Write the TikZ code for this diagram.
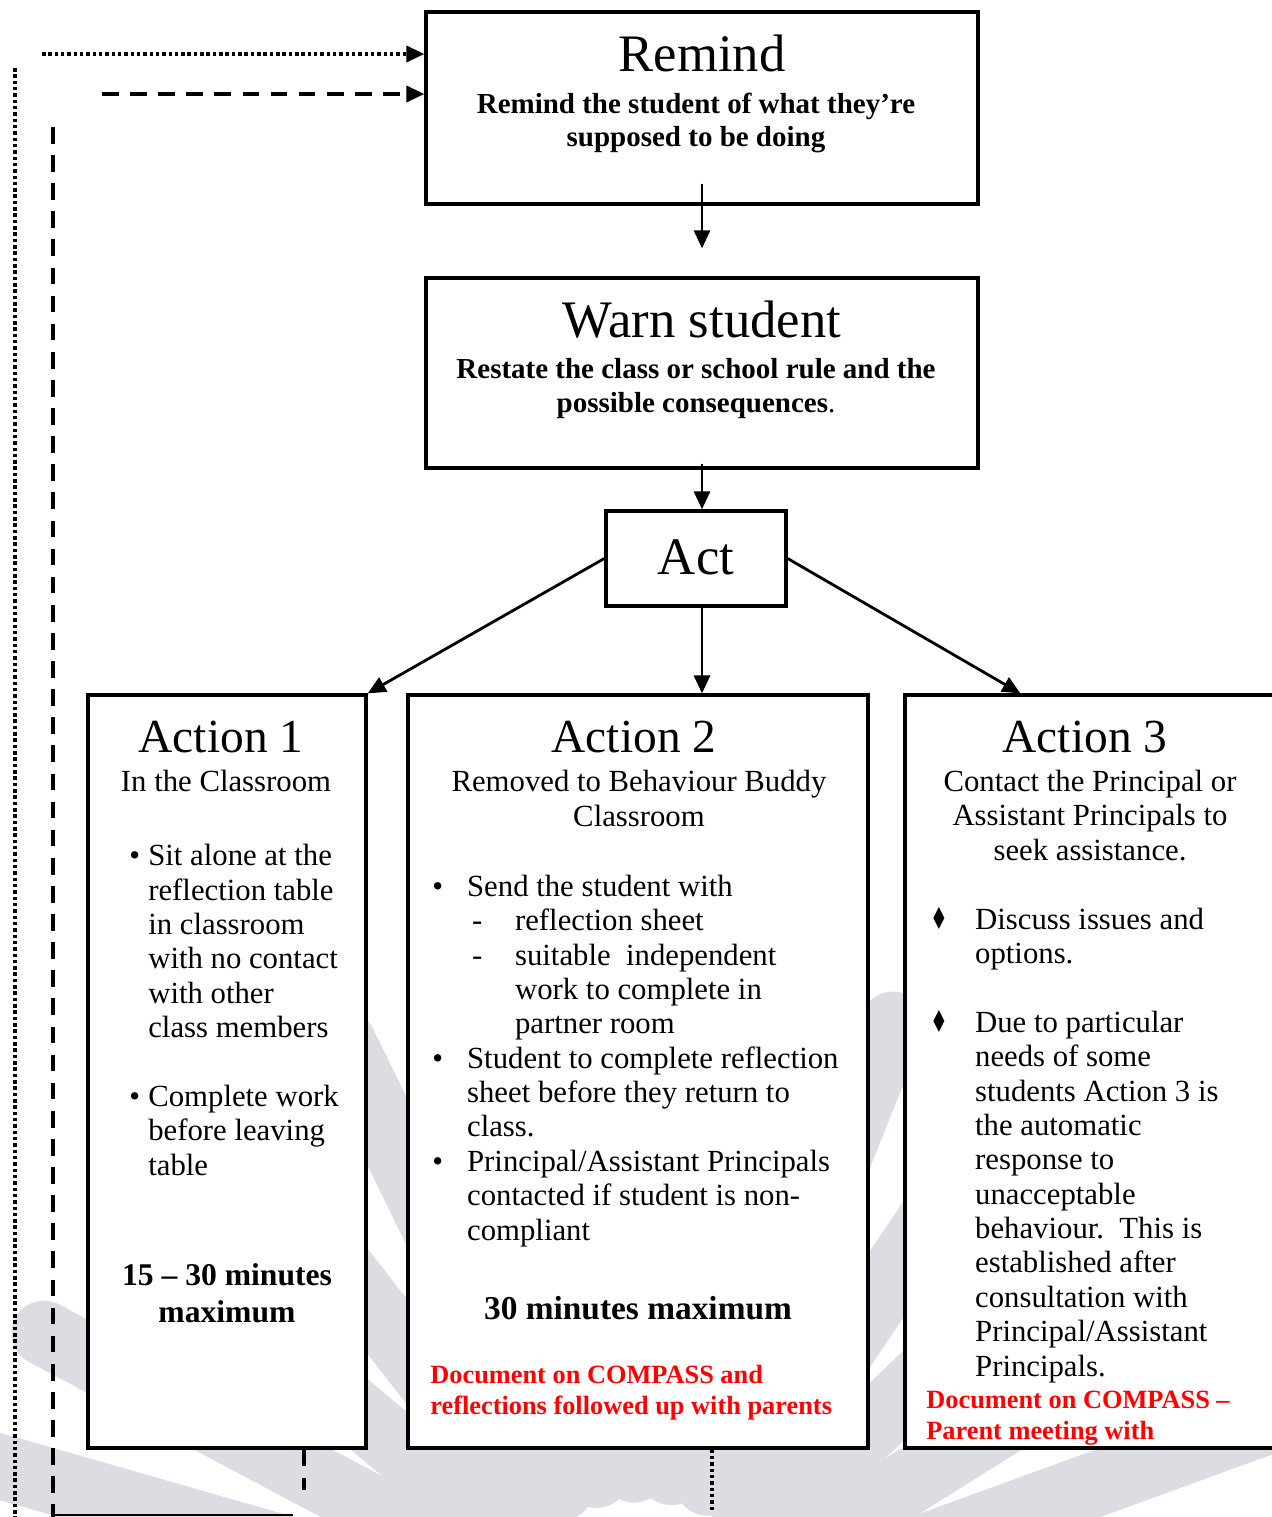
\documentclass[tikz,border=0pt]{standalone}
\usepackage{fontspec}
\setmainfont{Liberation Serif}
\newfontfamily\symfont{DejaVu Sans}
\usetikzlibrary{arrows.meta,calc}
\definecolor{wmgray}{HTML}{DCDDE3}
\definecolor{docred}{HTML}{FF0000}
\newcommand\bul[1]{\makebox[#1][l]{\textbullet}}
\newcommand\dia{\makebox[25.5pt][l]{\fontsize{15}{15}\selectfont\symfont\scalebox{0.75}[1.15]{♦}}}
\tikzset{
  % Stage boxes
  stage/.style={draw=black,line width=1.9pt,fill=white,inner sep=0pt},
  % Texts (multi-line nodes sit on the baseline of their last line)
  bigtitle/.style={inner sep=0pt,anchor=base,font=\fontsize{30}{34}\selectfont},
  subtitle/.style={inner sep=0pt,anchor=base,align=center,
                   font=\fontsize{16.5}{19.3}\selectfont\bfseries},
  acttitle/.style={inner sep=0pt,anchor=base,font=\fontsize{27}{30}\selectfont},
  actsub/.style={inner sep=0pt,anchor=base,align=center,
                 font=\fontsize{17.5}{19.56}\selectfont},
  body/.style={inner sep=0pt,anchor=base west,align=left,
               font=\fontsize{17.5}{19.56}\selectfont},
  limit/.style={inner sep=0pt,anchor=base,align=center,
                font=\fontsize{18}{21}\selectfont\bfseries},
  note/.style={inner sep=0pt,anchor=base west,align=left,text=docred,
               font=\fontsize{15}{17.3}\selectfont\bfseries},
  % Connectors
  arr/.style={-{Triangle[length=3.6mm,width=3.2mm]},line width=1.6pt},
  dotl/.style={line width=2pt,dash pattern=on 2pt off 1.6pt},
  dashl/.style={line width=2pt,dash pattern=on 9.5pt off 6.5pt},
  petal/.style={wmgray,line width=1.3cm,line cap=round}
}

\begin{document}
\begin{tikzpicture}[x=0.02cm,y=-0.02cm]
  \useasboundingbox (0,0) rectangle (1271,1517);

  % Watermark
  \coordinate (wm) at (640,1650);
  \foreach \a in {8,20,...,176}
    \draw[petal] ([shift={(-\a:180)}]wm) -- ([shift={(-\a:675)}]wm);

  % Stages
  \node[stage,minimum width=11.04cm,minimum height=3.84cm] (rem)  at (702,108) {};
  \node[stage,minimum width=11.04cm,minimum height=3.8cm]  (warn) at (702,373) {};
  \node[stage,minimum width=3.6cm,minimum height=1.9cm]    (act)  at (696,558.5) {};
  \node[stage,minimum width=5.56cm,minimum height=15.06cm] (a1)   at (227,1071.5) {};
  \node[stage,minimum width=9.2cm,minimum height=15.06cm]  (a2)   at (638,1071.5) {};
  \node[stage,minimum width=7.9cm,minimum height=15.06cm]  (a3)   at (1102.5,1071.5) {};

  % Remind / Warn / Act
  \node[bigtitle] (remt) at (702,72) {Remind};
  \node[subtitle] (rems) at (696,147) {Remind the student of what they’re\\supposed to be doing};
  \node[bigtitle] (warnt) at (702,337) {Warn student};
  \node[subtitle] (warns) at (696,412) {Restate the class or school rule and the\\possible consequences{\mdseries .}};
  \node[bigtitle] (actt) at (696,574) {Act};

  % Action 1
  \node[acttitle] (a1t) at (221,752) {Action 1};
  \node[actsub] (a1s) at (226,791) {In the Classroom};
  \node[body] (a1b) at (129,1175) {\bul{10.8pt}Sit alone at the\\
    \hspace*{10.8pt}reflection table\\
    \hspace*{10.8pt}in classroom\\
    \hspace*{10.8pt}with no contact\\
    \hspace*{10.8pt}with other\\
    \hspace*{10.8pt}class members\\[19.56pt]
    \bul{10.8pt}Complete work\\
    \hspace*{10.8pt}before leaving\\
    \hspace*{10.8pt}table};
  \node[limit] (a1m) at (227,1322) {15 – 30 minutes\\maximum};

  % Action 2
  \node[acttitle] (a2t) at (634,752) {Action 2};
  \node[actsub] (a2s) at (639,826) {Removed to Behaviour Buddy\\Classroom};
  \node[body] (a2b) at (432,1240) {\bul{19.8pt}Send the student with\\
    \hspace*{22.7pt}\makebox[24.4pt][l]{-}reflection sheet\\
    \hspace*{22.7pt}\makebox[24.4pt][l]{-}suitable\ \ independent\\
    \hspace*{47.1pt}work to complete in\\
    \hspace*{47.1pt}partner room\\
    \bul{19.8pt}Student to complete reflection\\
    \hspace*{19.8pt}sheet before they return to\\
    \hspace*{19.8pt}class.\\
    \bul{19.8pt}Principal/Assistant Principals\\
    \hspace*{19.8pt}contacted if student is non-\\
    \hspace*{19.8pt}compliant};
  \node[limit,font=\fontsize{19}{21}\selectfont\bfseries] (a2m) at (638,1319) {30 minutes maximum};
  \node[note] (a2n) at (430,1414) {Document on COMPASS and\\reflections followed up with parents};

  % Action 3
  \node[acttitle] (a3t) at (1085,752) {Action 3};
  \node[actsub] (a3s) at (1090,860) {Contact the Principal or\\Assistant Principals to\\seek assistance.};
  \node[body] (a3b) at (930,1376) {\dia Discuss issues and\\
    \hspace*{25.5pt}options.\\[19.56pt]
    \dia Due to particular\\
    \hspace*{25.5pt}needs of some\\
    \hspace*{25.5pt}students Action 3 is\\
    \hspace*{25.5pt}the automatic\\
    \hspace*{25.5pt}response to\\
    \hspace*{25.5pt}unacceptable\\
    \hspace*{25.5pt}behaviour.\ \ This is\\
    \hspace*{25.5pt}established after\\
    \hspace*{25.5pt}consultation with\\
    \hspace*{25.5pt}Principal/Assistant\\
    \hspace*{25.5pt}Principals.};
  \node[note] (a3n) at (926,1439) {Document on COMPASS –\\Parent meeting with};

  % Flow
  \draw[arr] ([yshift=0.44cm]rem.south) -- ([yshift=0.56cm]warn.north);
  \draw[arr] ([yshift=0.12cm]warn.south) -- (act.north -| warn.south);
  \draw[arr] (act.west) -- (a1.north east);
  \draw[arr] (act.south -| warn.south) -- (a2.north -| warn.south);
  \draw[arr] (act.east) -- ([xshift=2.34cm]a3.north west);

  % Return lines
  \coordinate (dotin) at (42,54);
  \coordinate (dashin) at (102,94);
  \draw[dotl,arr,line width=2pt] (dotin) -- (dotin -| rem.west);
  \draw[dashl,arr,line width=2pt] (dashin) -- (dashin -| rem.west);
  \coordinate (dottop) at (15,68);
  \coordinate (dotbot) at (15,1517);
  \draw[dotl] (dottop) -- (dotbot);
  \coordinate (dashtop) at (53,127);
  \coordinate (dashbot) at (53,1517);
  \draw[dashl] (dashtop) -- (dashbot);
  \coordinate (a1tail) at (304,1490);
  \draw[dashl] (a1.south -| a1tail) -- (a1tail);
  \coordinate (a2tail) at (712,1510);
  \draw[dotl] (a2.south -| a2tail) -- (a2tail);
  \coordinate (baseL) at (53,1515);
  \coordinate (baseR) at (293,1515);
  \draw[line width=0.9pt] (baseL) -- (baseR);
\end{tikzpicture}
\end{document}
